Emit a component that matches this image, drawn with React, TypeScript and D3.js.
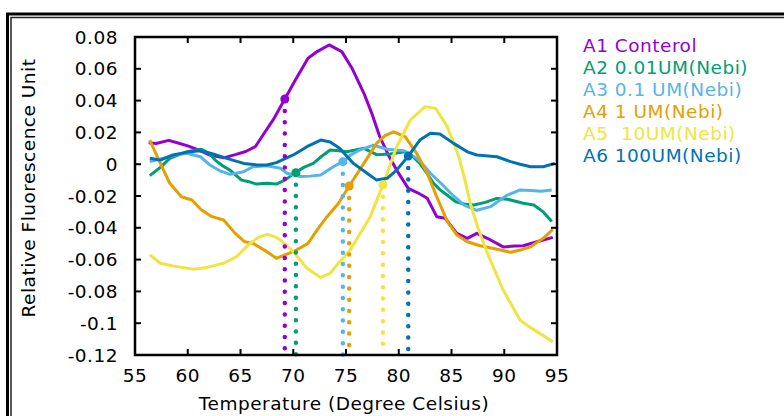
import React from "react";
import * as d3 from "d3";

const seriesNames = ["A1 Conterol", "A2 0.01UM(Nebi)", "A3 0.1 UM(Nebi)", "A4 1 UM(Nebi)", "A5  10UM(Nebi)", "A6 100UM(Nebi)"];
const seriesColors = ["#9400D3", "#009E73", "#56B4E9", "#E69F00", "#F0E442", "#0072B2"];

const a1T = [56.3, 57, 58.2, 59, 60, 61, 62, 63.4, 64.5, 65.5, 66.4, 67.2, 68.2, 69.2, 70.2, 71.4, 72.3, 73.4, 74.6, 75.6, 76.7, 77.5, 78.2, 79, 79.8, 80.9, 81.8, 82.7, 83.6, 84.4, 85.5, 86.5, 87.4, 88.4, 89.9, 91, 91.8, 93.1, 94.6];
const a1V = [0.0135, 0.013, 0.015, 0.0135, 0.0115, 0.009, 0.006, 0.004, 0.006, 0.008, 0.011, 0.019, 0.029, 0.041, 0.053, 0.0666, 0.071, 0.075, 0.0708, 0.06, 0.0446, 0.031, 0.0173, 0.006, -0.0037, -0.0152, -0.018, -0.0214, -0.033, -0.034, -0.0435, -0.0466, -0.0435, -0.0466, -0.052, -0.0515, -0.0513, -0.0488, -0.046];

const a2T = [56.4, 57.4, 58.3, 59.2, 59.9, 61.3, 62, 62.6, 63.3, 64, 65.1, 65.8, 66.5, 67.5, 68.4, 69.2, 70.2, 71, 71.9, 72.7, 73.5, 74.3, 75.1, 75.9, 76.7, 77.9, 79.2, 80.5, 81.3, 82, 82.7, 83.3, 83.9, 84.7, 85.4, 86.2, 87.1, 88.2, 89.3, 90.3, 91.8, 92.8, 93.7, 94.5];
const a2V = [-0.0072, -0.002, 0.0037, 0.006, 0.0078, 0.0094, 0.007, 0.0026, -0.001, -0.0037, -0.01, -0.011, -0.0125, -0.012, -0.0125, -0.01, -0.0053, -0.002, 0.0005, 0.005, 0.0089, 0.0085, 0.0078, 0.009, 0.01, 0.006, 0.0064, 0.0078, 0.005, 0.0005, -0.006, -0.012, -0.016, -0.02, -0.0236, -0.025, -0.0257, -0.024, -0.0215, -0.022, -0.0246, -0.0257, -0.03, -0.036];

const a3T = [56.4, 57.7, 59, 59.9, 61.2, 62.1, 63, 64, 65.3, 66.2, 67.5, 68.8, 69.4, 70.7, 71.6, 72.6, 73.8, 74.7, 75.5, 76.3, 77.6, 78.9, 80.5, 81.7, 82.4, 83, 84, 85.2, 86.2, 87.4, 88.7, 89.5, 90.3, 91.5, 92.5, 93.5, 94.5];
const a3V = [0.0016, 0.0037, 0.006, 0.0069, 0.0047, -0.0005, -0.004, -0.0064, -0.0047, -0.0016, -0.001, -0.0026, -0.0057, -0.0078, -0.0075, -0.0068, -0.0016, 0.0016, 0.006, 0.0089, 0.012, 0.0094, 0.0085, 0.0037, -0.001, -0.0057, -0.012, -0.02, -0.0257, -0.029, -0.0267, -0.023, -0.0194, -0.0162, -0.0165, -0.017, -0.0162];

const a4T = [56.4, 57.4, 58.3, 59.4, 60.4, 61.3, 62.3, 63.4, 64.5, 65.4, 66.2, 67.5, 68.4, 69.4, 70.3, 71.4, 72.3, 73.2, 74.3, 75.3, 76.7, 77.9, 78.7, 79.5, 80.6, 81.7, 82.7, 83.6, 84.6, 85.5, 86.5, 87.7, 89, 90.6, 91.5, 92.5, 93.7, 94.6];
const a4V = [0.0152, 0.0005, -0.012, -0.0205, -0.0225, -0.0288, -0.033, -0.0351, -0.0435, -0.0488, -0.0498, -0.055, -0.0592, -0.0565, -0.054, -0.0498, -0.041, -0.033, -0.0246, -0.0137, 0.0005, 0.0131, 0.018, 0.0204, 0.0173, 0.0068, -0.0057, -0.0205, -0.036, -0.0445, -0.0488, -0.0513, -0.053, -0.0554, -0.054, -0.0519, -0.0466, -0.041];

const a5T = [56.4, 57.4, 58.6, 60.5, 61.8, 63.4, 64.6, 65.9, 66.7, 67.5, 68.2, 68.8, 70, 71.3, 72.6, 73.5, 74.4, 75.4, 76.3, 77.3, 78.5, 79.8, 81.1, 82.5, 83.5, 84.6, 85.7, 86.2, 86.8, 87.5, 88.4, 89.9, 91.5, 92.3, 93.1, 94.6];
const a5V = [-0.057, -0.0623, -0.064, -0.066, -0.0649, -0.0623, -0.0582, -0.0498, -0.046, -0.0441, -0.0455, -0.0477, -0.055, -0.0655, -0.0712, -0.0686, -0.0613, -0.054, -0.044, -0.033, -0.013, 0.011, 0.0278, 0.0362, 0.0351, 0.0236, 0.0047, -0.008, -0.025, -0.04, -0.056, -0.0791, -0.098, -0.102, -0.1053, -0.1116];

const a6T = [56.4, 57.4, 58.6, 60.2, 61.2, 62.4, 63.7, 65.3, 66.6, 67.5, 68.4, 70, 71.3, 72.6, 73.5, 74.4, 75.7, 77, 77.9, 78.9, 79.8, 80.9, 82, 83, 83.9, 85.2, 86.5, 87.4, 89.3, 90.6, 91.5, 92.5, 93.7, 94.8];
const a6V = [0.0037, 0.0026, 0.0058, 0.0079, 0.0085, 0.0064, 0.0037, 0.0005, -0.0005, -0.0005, 0.001, 0.0058, 0.011, 0.0152, 0.014, 0.01, 0.0005, -0.0057, -0.01, -0.0089, -0.0037, 0.0051, 0.0152, 0.0194, 0.019, 0.0131, 0.0078, 0.0058, 0.0047, 0.0016, 0.0, -0.0016, -0.0016, 0.0005];

const markerT = [69.2, 70.25, 74.7, 75.3, 78.5, 80.9];
const markerV = [0.041, -0.0053, 0.0016, -0.0137, -0.013, 0.0051];

const xTicks = [55, 60, 65, 70, 75, 80, 85, 90, 95];
const yTicks = [0.08, 0.06, 0.04, 0.02, 0, -0.02, -0.04, -0.06, -0.08, -0.1, -0.12];
const yTickLabels = ["0.08", "0.06", "0.04", "0.02", "0", "-0.02", "-0.04", "-0.06", "-0.08", "-0.1", "-0.12"];

const allT = [a1T, a2T, a3T, a4T, a5T, a6T];
const allV = [a1V, a2V, a3V, a4V, a5V, a6V];

export default function App() {
  React.useEffect(() => {
    document.body.style.margin = "0";
  }, []);
  const W = 784, H = 416;
  const left = 135, right = 557, top = 37, bottom = 355;
  const x = d3.scaleLinear().domain([55, 95]).range([left, right]);
  const y = d3.scaleLinear().domain([-0.12, 0.08]).range([bottom, top]);
  const line = d3.line<[number, number]>().x(d => x(d[0])).y(d => y(d[1]));
  const font = "DejaVu Sans, sans-serif";
  const fs = 18.5;
  const ls = 0.5;
  return (
    <svg width={W} height={H} style={{ position: "absolute", left: 0, top: 0, background: "#fff" }} fontFamily={font}>
      <rect x={0} y={0} width={W} height={H} fill="#fff" />
      <rect x={7.5} y={14} width={W + 20} height={H + 20} fill="none" stroke="#000" strokeWidth={3} />
      <rect x={11} y={17.5} width={W + 20} height={H + 20} fill="none" stroke="#222" strokeWidth={1.5} />
      {allT.map((ts, i) => (
        <path key={"l" + i} d={line(ts.map((t, j) => [t, allV[i][j]]) as [number, number][]) || ""} fill="none" stroke={seriesColors[i]} strokeWidth={3} strokeLinejoin="round" />
      ))}
      {markerT.map((t, i) => (
        <g key={"m" + i}>
          <line x1={x(t)} x2={x(t)} y1={y(markerV[i]) + 12} y2={y(-0.12)} stroke={seriesColors[i]} strokeWidth={4.5} strokeLinecap="round" strokeDasharray="0 11.3" />
          <circle cx={x(t)} cy={y(markerV[i])} r={4.5} fill={seriesColors[i]} />
        </g>
      ))}
      <rect x={left} y={top} width={right - left} height={bottom - top} fill="none" stroke="#000" strokeWidth={2.5} />
      {xTicks.map(t => (
        <g key={"xt" + t}>
          <line x1={x(t)} x2={x(t)} y1={bottom} y2={bottom - 6} stroke="#000" strokeWidth={2} />
          <line x1={x(t)} x2={x(t)} y1={top} y2={top + 6} stroke="#000" strokeWidth={2} />
          <text x={x(t)} y={bottom + 26.5} fontSize={fs} letterSpacing={ls} textAnchor="middle" fill="#000">{t}</text>
        </g>
      ))}
      {yTicks.map((t, i) => (
        <g key={"yt" + i}>
          <line x1={left} x2={left + 6} y1={y(t)} y2={y(t)} stroke="#000" strokeWidth={2} />
          <line x1={right} x2={right - 6} y1={y(t)} y2={y(t)} stroke="#000" strokeWidth={2} />
          <text x={118} y={y(t) + 6.5} fontSize={fs} letterSpacing={ls} textAnchor="end" fill="#000">{yTickLabels[i]}</text>
        </g>
      ))}
      <text x={344} y={410} fontSize={fs} letterSpacing={ls} textAnchor="middle" fill="#000">Temperature (Degree Celsius)</text>
      <text transform={`translate(34.5,188) rotate(-90)`} fontSize={fs} letterSpacing={ls} textAnchor="middle" fill="#000">Relative Fluorescence Unit</text>
      {seriesNames.map((n, i) => (
        <text key={"lg" + i} x={583} y={51.7 + i * 22.1} fontSize={fs} letterSpacing={ls} fill={seriesColors[i]} style={{ whiteSpace: "pre" }}>{n}</text>
      ))}
    </svg>
  );
}
